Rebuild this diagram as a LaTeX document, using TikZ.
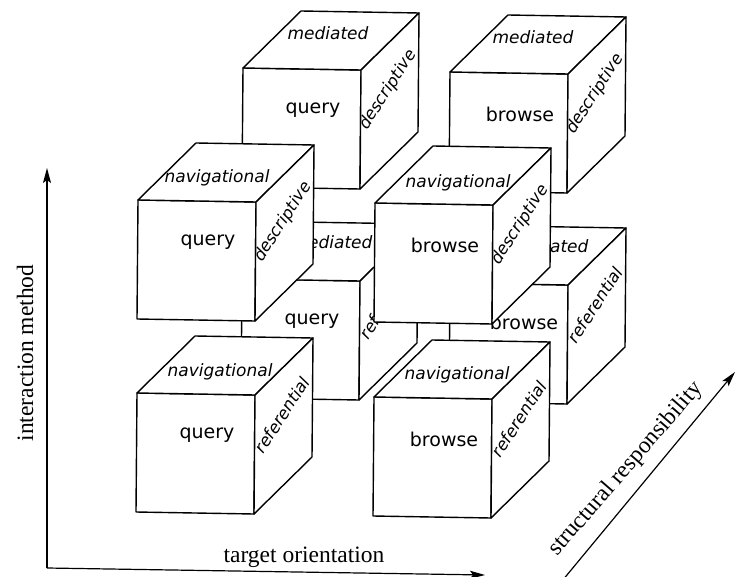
\documentclass[tikz,border=0pt]{standalone}
\usepackage{fontspec}
\setmainfont{Liberation Serif}
\newfontfamily\cubefont{DejaVu Sans}
\usepackage{tikz}
\usetikzlibrary{arrows.meta}

\begin{document}
\begin{tikzpicture}[x=1pt,y=-1pt,>={Stealth[length=15pt,width=8pt,inset=3pt]},
	face/.style={draw,fill=white,line width=1.4pt,line join=round},
	frontlbl/.style={font=\cubefont\fontsize{19}{21}\selectfont},
	toplbl/.style={font=\cubefont\itshape\fontsize{17}{19}\selectfont},
	sidelbl/.style={font=\cubefont\itshape\fontsize{16.5}{18}\selectfont,rotate=57},
	axlbl/.style={font=\fontsize{23.5}{26}\selectfont,inner sep=0pt}]
	 \useasboundingbox(0,0)rectangle(735,577);
	 % axes
	 \coordinate(O)at(47,568);\coordinate(Y)at(47,168);\coordinate(X)at(485,575);
	 \coordinate(S0)at(562,581);\coordinate(S)at(735,372);
	 \draw[->,line width=1.2pt](O)--(Y);
	 \draw[->,line width=1.2pt](O)--(X);
	 \draw[->,line width=1.2pt](S0)--(S);
	 \node[axlbl,rotate=90,anchor=base](im)at(33,353){interaction method};
	 \node[axlbl,anchor=base](to)at(304,562){target orientation};
	 \node[axlbl,rotate=49](sr)at(626,469){structural responsibility};
	 % cubes, back row first
	 \foreach \n/\x/\y/\fx/\fy/\tx/\ty/\t/\f/\s in {
	   mqd/243/68/70/42/85/-35/mediated/query/descriptive,
	   mbd/450/72/70/42/83/-35/mediated/browse/descriptive,
	   mqr/242/279/70/42/90/-37/mediated/query/referential,
	   mbr/450/283/74/39/98/-37/mediated/browse/referential,
	   nqd/138/200/70/42/79/-22/navigational/query/descriptive,
	   nbd/375/203/70/42/83/-20/navigational/browse/descriptive,
	   nqr/137/393/70/42/83/-21/navigational/query/referential,
	   nbr/374/397/70/42/83/-22/navigational/browse/referential}{
	 \begin{scope}[shift={(\x,\y)}]
	   \filldraw[face](0,0)--(118,2)--(117,121)--(-1,119)--cycle;
	   \filldraw[face](0,0)--(58,-57)--(176,-55)--(118,2)--cycle;
	   \filldraw[face](118,2)--(176,-55)--(175,64)--(117,121)--cycle;
	   \node[frontlbl](\n-f)at(\fx,\fy){\f};
	   \node[toplbl](\n-t)at(\tx,\ty){\t};
	   \node[sidelbl](\n-s)at(145,22){\s};
	 \end{scope}}
	\end{tikzpicture}
\end{document}
